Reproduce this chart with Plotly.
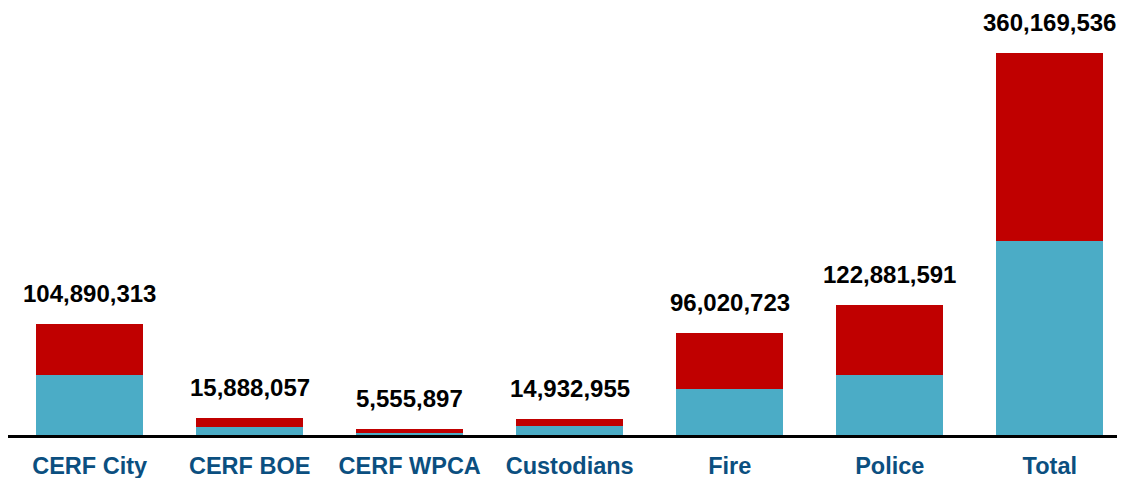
import plotly.graph_objects as go

categories = ["CERF City", "CERF BOE", "CERF WPCA", "Custodians", "Fire", "Police", "Total"]
totals = [104890313, 15888057, 5555897, 14932955, 96020723, 122881591, 360169536]
lower_values = [57.0e6, 8.0e6, 1.7e6, 8.3e6, 43.8e6, 57.0e6, 183.3e6]
upper_values = [t - b for t, b in zip(totals, lower_values)]
total_labels = [f"{t:,}" for t in totals]

BLUE = "#4BACC6"
RED = "#C00000"
FONT = "Arial, Liberation Sans, sans-serif"

fig = go.Figure()
fig.add_trace(go.Bar(x=categories, y=lower_values, marker=dict(color=BLUE, line=dict(width=0)),
                     width=0.67, name="Lower", hoverinfo="skip"))
fig.add_trace(go.Bar(x=categories, y=upper_values, marker=dict(color=RED, line=dict(width=0)),
                     width=0.67, name="Upper", hoverinfo="skip"))

for c, t, lab in zip(categories, totals, total_labels):
    fig.add_annotation(x=c, y=t, text=f"<b>{lab}</b>", showarrow=False, yanchor="bottom",
                       yshift=15, font=dict(family=FONT, size=24, color="#000000"))

fig.update_layout(
    barmode="stack",
    width=1117, height=470,
    margin=dict(l=0, r=0, t=0, b=42.5),
    plot_bgcolor="white", paper_bgcolor="white",
    showlegend=False,
    xaxis=dict(range=[-0.51, 6.47], showline=True, linecolor="black", linewidth=3,
               showgrid=False, ticks="outside", ticklen=8, tickcolor="rgba(0,0,0,0)",
               tickfont=dict(family=FONT, size=23.5, color="#0B4F80"),
               tickprefix="<b>", ticksuffix="</b>"),
    yaxis=dict(range=[0, 402.8e6], visible=False, showgrid=False, zeroline=False),
)

fig.write_html("out.html")
